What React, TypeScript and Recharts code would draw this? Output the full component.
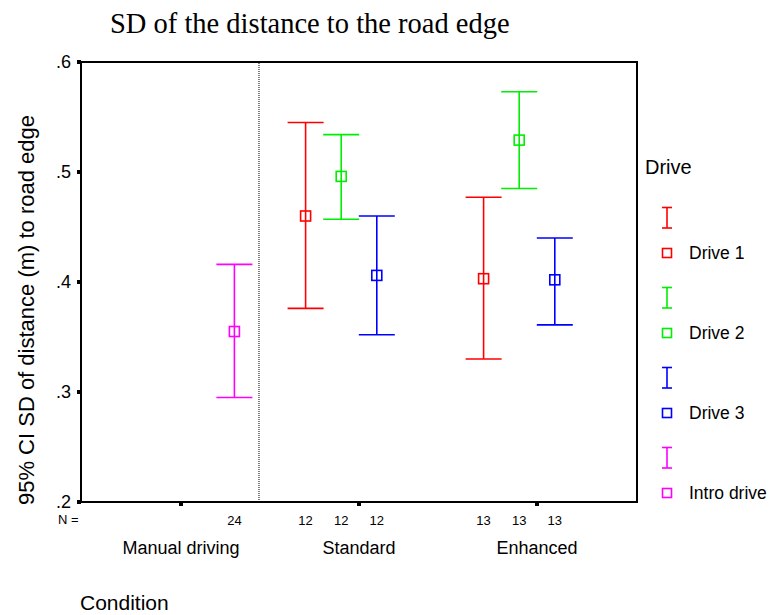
import React from "react";
import {
  ComposedChart,
  Scatter,
  ErrorBar,
  XAxis,
  YAxis,
  ReferenceLine,
  ReferenceArea,
} from "recharts";

const categories = ["Manual driving", "Standard", "Enhanced"];
const driveNames = ["Drive 1", "Drive 2", "Drive 3", "Intro drive"];
const driveColors = ["#ff0000", "#00ee00", "#0000ff", "#ff00ff"];

// values per category (null = no data for that condition)
const drive1Mean = [null, 0.46, 0.403];
const drive1Low = [null, 0.376, 0.33];
const drive1High = [null, 0.545, 0.477];
const drive1N = [null, 12, 13];

const drive2Mean = [null, 0.496, 0.529];
const drive2Low = [null, 0.457, 0.485];
const drive2High = [null, 0.534, 0.573];
const drive2N = [null, 12, 13];

const drive3Mean = [null, 0.406, 0.402];
const drive3Low = [null, 0.352, 0.361];
const drive3High = [null, 0.46, 0.44];
const drive3N = [null, 12, 13];

const introMean = [0.355, null, null];
const introLow = [0.295, null, null];
const introHigh = [0.416, null, null];
const introN = [24, null, null];

const yTicks = [0.2, 0.3, 0.4, 0.5, 0.6];

const W = 771;
const H = 615;
const MARGIN = { top: 62, right: 134, bottom: 53, left: 41 };
const X_AXIS_H = 60;
const Y_AXIS_W = 40;
const PLOT_BOTTOM = H - MARGIN.bottom - X_AXIS_H;
const X_DOMAIN = [1 - 100 / 178, 3 + 100 / 178];
const DIVIDER = 1 + 78 / 178;
const SLOT = [-0.3, -0.1, 0.1, 0.3];

const FONT = "'Liberation Sans', Arial, sans-serif";

const build = (i: number, mean: any[], low: any[], high: any[], n: any[]) =>
  mean
    .map((m, c) =>
      m == null
        ? null
        : { x: c + 1 + SLOT[i], y: m, err: [m - low[c], high[c] - m], n: n[c] }
    )
    .filter(Boolean);

const series = [
  build(0, drive1Mean, drive1Low, drive1High, drive1N),
  build(1, drive2Mean, drive2Low, drive2High, drive2N),
  build(2, drive3Mean, drive3Low, drive3High, drive3N),
  build(3, introMean, introLow, introHigh, introN),
];

const makeShape = (color: string) => (props: any) => {
  const { cx, cy, payload } = props;
  return (
    <g>
      <rect x={cx - 5} y={cy - 5} width={10} height={10} fill="none" stroke={color} strokeWidth={1.6} />
      <text x={cx} y={PLOT_BOTTOM + 23} textAnchor="middle" fontSize={13} fontFamily={FONT} fill="#000">
        {payload.n}
      </text>
    </g>
  );
};

const CategoryTick = ({ x, y, payload }: any) => (
  <text x={x} y={y + 46} textAnchor="middle" fontSize={18} fontFamily={FONT} fill="#000">
    {categories[payload.value - 1]}
  </text>
);

const ValueTick = ({ x, y, payload }: any) => (
  <text x={x - 4} y={y + 6} textAnchor="end" fontSize={18} fontFamily={FONT} fill="#000">
    {payload.value.toFixed(1).replace(/^0/, "")}
  </text>
);

const DriveLegend = () => (
  <div style={{ position: "absolute", left: 0, top: 0, fontFamily: FONT, color: "#000" }}>
    <div style={{ position: "absolute", left: 645, top: 157, fontSize: 20, lineHeight: "20px" }}>Drive</div>
    {driveNames.map((name, i) => {
      const base = 207 + 80 * i;
      return (
        <div key={name}>
          <svg width={20} height={60} style={{ position: "absolute", left: 657, top: base - 2 }}>
            <line x1={10} y1={2} x2={10} y2={23} stroke={driveColors[i]} strokeWidth={1.6} />
            <line x1={5} y1={2.5} x2={15} y2={2.5} stroke={driveColors[i]} strokeWidth={1.6} />
            <line x1={5} y1={23} x2={15} y2={23} stroke={driveColors[i]} strokeWidth={1.6} />
            <rect x={5.5} y={43.5} width={9} height={9} fill="none" stroke={driveColors[i]} strokeWidth={1.6} />
          </svg>
          <span
            style={{
              position: "absolute",
              left: 689,
              top: base + 37,
              fontSize: 17.5,
              lineHeight: "18px",
              whiteSpace: "nowrap",
            }}
          >
            {name}
          </span>
        </div>
      );
    })}
  </div>
);

export default function App() {
  return (
    <div style={{ position: "absolute", left: 0, top: 0, width: W, height: H, background: "#fff" }}>
      <div
        style={{
          position: "absolute",
          left: 110,
          top: 10,
          fontFamily: "'Liberation Serif', 'Times New Roman', serif",
          fontSize: 28.5,
          lineHeight: "28px",
          whiteSpace: "nowrap",
        }}
      >
        SD of the distance to the road edge
      </div>
      <div
        style={{
          position: "absolute",
          left: 27,
          top: 310,
          transform: "translate(-50%, -50%) rotate(-90deg)",
          fontFamily: FONT,
          fontSize: 22,
          lineHeight: "22px",
          whiteSpace: "nowrap",
        }}
      >
        95% CI SD of distance (m) to road edge
      </div>
      <div style={{ position: "absolute", left: 58, top: 513, fontFamily: FONT, fontSize: 13, lineHeight: "13px" }}>
        N =
      </div>
      <div style={{ position: "absolute", left: 80, top: 593, fontFamily: FONT, fontSize: 21, lineHeight: "20px" }}>
        Condition
      </div>
      <DriveLegend />
      <ComposedChart width={W} height={H} margin={MARGIN}>
        <XAxis
          type="number"
          dataKey="x"
          domain={X_DOMAIN}
          ticks={[1, 2, 3]}
          height={X_AXIS_H}
          axisLine={{ stroke: "#000", strokeWidth: 2 }}
          tickLine={{ stroke: "#000", strokeWidth: 4 }}
          tickSize={4}
          tick={<CategoryTick />}
        />
        <YAxis
          type="number"
          dataKey="y"
          domain={[0.2, 0.6]}
          ticks={yTicks}
          width={Y_AXIS_W}
          axisLine={{ stroke: "#000", strokeWidth: 2 }}
          tickLine={{ stroke: "#000", strokeWidth: 4 }}
          tickSize={4}
          tick={<ValueTick />}
        />
        <ReferenceArea
          x1={X_DOMAIN[0]}
          x2={X_DOMAIN[1]}
          y1={0.2}
          y2={0.6}
          fill="none"
          stroke="#000"
          strokeWidth={2}
        />
        <ReferenceLine x={DIVIDER} stroke="#000" strokeDasharray="1 1" strokeWidth={1} />
        {series.map((data, i) => (
          <Scatter
            key={driveNames[i]}
            name={driveNames[i]}
            data={data}
            fill={driveColors[i]}
            shape={makeShape(driveColors[i])}
            isAnimationActive={false}
          >
            <ErrorBar
              dataKey="err"
              direction="y"
              width={18}
              stroke={driveColors[i]}
              strokeWidth={1.6}
              isAnimationActive={false}
            />
          </Scatter>
        ))}
      </ComposedChart>
    </div>
  );
}
